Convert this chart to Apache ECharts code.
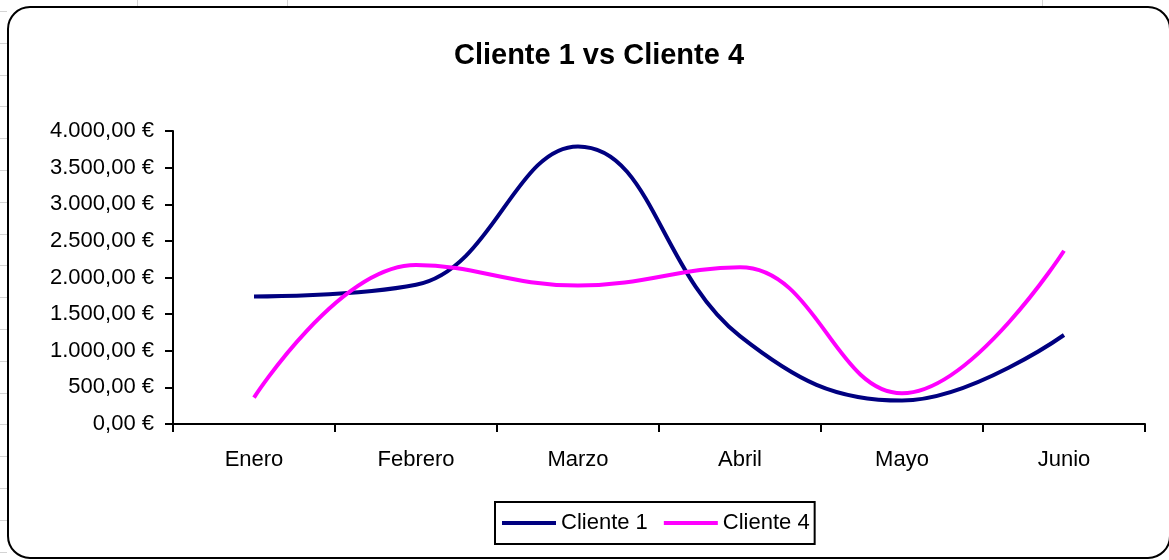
<!DOCTYPE html>
<html>
<head>
<meta charset="utf-8">
<title>Cliente 1 vs Cliente 4</title>
<script src="https://cdn.jsdelivr.net/npm/echarts@6/dist/echarts.min.js"></script>
<style>
  html, body { margin: 0; padding: 0; background: #ffffff; }
  #chart { width: 1169px; height: 560px; }
</style>
</head>
<body>
<div id="chart"></div>
<script>
// Monthly amounts (EUR) per client
const categories = ['Enero', 'Febrero', 'Marzo', 'Abril', 'Mayo', 'Junio'];
const cliente1 = [1740, 1900, 3790, 1200, 320, 1215];
const cliente4 = [360, 2170, 1890, 2140, 420, 2365];
const seriesNames = ['Cliente 1', 'Cliente 4'];
const seriesColors = ['#000080', '#FF00FF'];

// Y axis scale
const yMin = 0;
const yMax = 4000;
const yStep = 500;

// Spanish currency format: 4.000,00 €
function euro(v) {
  const parts = v.toFixed(2).split('.');
  const intPart = parts[0].replace(/\B(?=(\d{3})+(?!\d))/g, '.');
  return intPart + ',' + parts[1] + ' €';
}

const FONT = '"Liberation Sans", Arial, sans-serif';

// Spreadsheet cell lines peeking around the chart frame
const sheetLines = [];
[137, 287, 1042].forEach(function (x) {
  sheetLines.push({ type: 'line', silent: true, z: -1,
    shape: { x1: x + 0.5, y1: 0, x2: x + 0.5, y2: 7 },
    style: { stroke: '#d4d4d4', lineWidth: 1 } });
});
for (let y = 11; y < 560; y += 31.8) {
  sheetLines.push({ type: 'line', silent: true, z: -1,
    shape: { x1: 0, y1: Math.round(y) + 0.5, x2: 7, y2: Math.round(y) + 0.5 },
    style: { stroke: '#d4d4d4', lineWidth: 1 } });
}

const chart = echarts.init(document.getElementById('chart'), null, { renderer: 'canvas' });

chart.setOption({
  animation: false,
  backgroundColor: '#ffffff',
  title: {
    text: 'Cliente 1 vs Cliente 4',
    left: 594,
    top: 36,
    textAlign: 'center',
    textStyle: { fontFamily: FONT, fontSize: 29, fontWeight: 'bold', color: '#000000' }
  },
  legend: {
    data: seriesNames,
    left: 495,
    top: 502,
    orient: 'horizontal',
    icon: 'rect',
    itemWidth: 54,
    itemHeight: 4,
    itemGap: 16,
    padding: [10, 5, 10, 7],
    borderColor: '#000000',
    borderWidth: 2,
    borderRadius: 0,
    textStyle: { fontFamily: FONT, fontSize: 22, color: '#000000' }
  },
  grid: {
    left: 173,
    right: 24,
    top: 131,
    bottom: 136,
    containLabel: false
  },
  xAxis: {
    type: 'category',
    data: categories,
    boundaryGap: true,
    axisLine: { show: true, lineStyle: { color: '#000000', width: 2 } },
    axisTick: { show: true, inside: false, length: 8, alignWithLabel: false, lineStyle: { color: '#000000', width: 2 } },
    axisLabel: { margin: 25, fontFamily: FONT, fontSize: 22, color: '#000000', interval: 0 },
    splitLine: { show: false }
  },
  yAxis: {
    type: 'value',
    min: yMin,
    max: yMax,
    interval: yStep,
    axisLine: { show: true, lineStyle: { color: '#000000', width: 2 } },
    axisTick: { show: true, inside: false, length: 8, lineStyle: { color: '#000000', width: 2 } },
    axisLabel: { margin: 19, fontFamily: FONT, fontSize: 22, color: '#000000', formatter: euro },
    splitLine: { show: false }
  },
  series: [
    {
      name: seriesNames[0],
      type: 'line',
      data: cliente1,
      smooth: 0.42,
      symbol: 'none',
      color: seriesColors[0],
      itemStyle: { color: seriesColors[0] },
      lineStyle: { color: seriesColors[0], width: 4 }
    },
    {
      name: seriesNames[1],
      type: 'line',
      data: cliente4,
      smooth: 0.42,
      symbol: 'none',
      color: seriesColors[1],
      itemStyle: { color: seriesColors[1] },
      lineStyle: { color: seriesColors[1], width: 4 }
    }
  ],
  graphic: sheetLines.concat([
    {
      type: 'rect',
      silent: true,
      z: 100,
      shape: { x: 8, y: 7, width: 1162, height: 551, r: 22 },
      style: { fill: null, stroke: '#000000', lineWidth: 2 }
    }
  ])
});
</script>
</body>
</html>
